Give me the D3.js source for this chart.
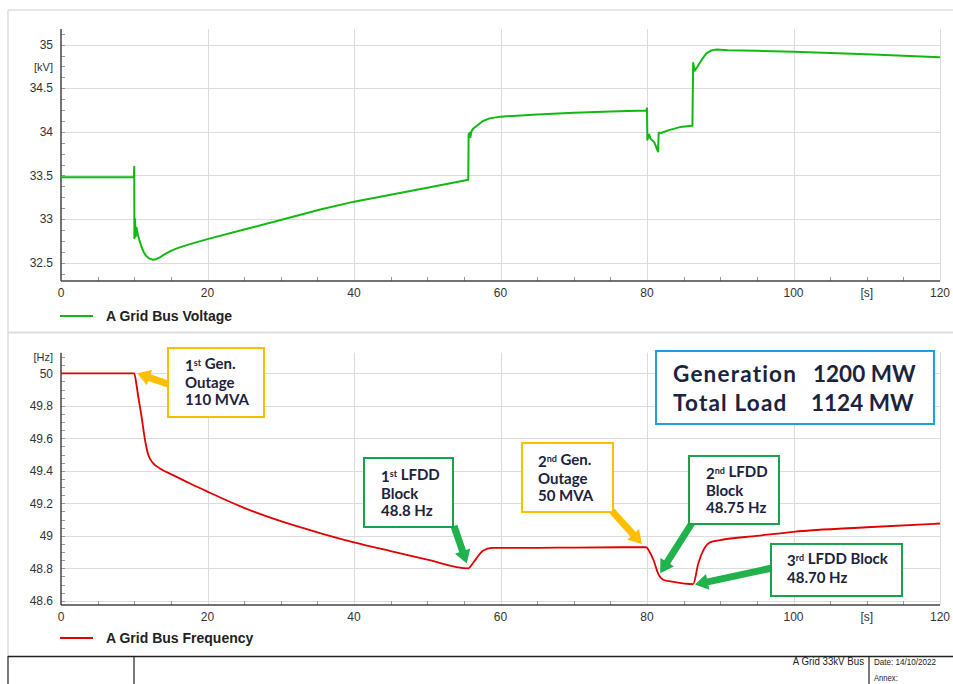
<!DOCTYPE html>
<html><head><meta charset="utf-8">
<script src="https://cdn.jsdelivr.net/npm/d3@7"></script>
<style>
html,body{margin:0;padding:0;background:#fff;}
svg{display:block;}
</style></head>
<body>
<svg id="c" width="953" height="684"></svg>
<script>
// ---------------- DATA ----------------
const voltTime = [0, 9.95, 10.0, 10.02, 10.1, 10.2, 10.3, 10.5, 10.7, 11.0, 11.3, 11.6, 12.0, 12.5, 13.0, 13.5, 14.0, 15.0, 16.0, 17.5, 20, 25, 30, 35.4, 40, 45, 50, 55.6,
  55.65, 55.8, 55.9, 56.0, 56.3, 56.8, 57.5, 58.5, 60, 65, 70, 75, 79.9,
  80.0, 80.05, 80.3, 80.5, 81.0, 81.5, 81.6, 82.0, 83.0, 84.5, 86.2,
  86.3, 86.5, 86.9, 87.5, 88.1, 88.8, 89.5, 91, 95, 100, 105, 110, 115, 120];
const voltValue = [33.48, 33.48, 33.60, 32.78, 33.00, 32.80, 32.90, 32.82, 32.76, 32.68, 32.62, 32.58, 32.55, 32.535, 32.54, 32.56, 32.59, 32.635, 32.67, 32.71, 32.77, 32.88, 32.99, 33.11, 33.20, 33.28, 33.36, 33.45,
  33.97, 33.99, 33.94, 34.00, 34.04, 34.07, 34.12, 34.155, 34.175, 34.20, 34.22, 34.235, 34.245,
  34.27, 33.91, 33.97, 33.92, 33.88, 33.775, 33.99, 33.99, 34.02, 34.055, 34.07,
  34.79, 34.70, 34.75, 34.83, 34.90, 34.935, 34.945, 34.935, 34.93, 34.918, 34.905, 34.89, 34.872, 34.855];

const freqTime = [0, 10, 10.3, 10.55, 11.0, 11.47, 11.9, 12.6, 13.5, 15.3, 17.5, 20, 25, 30, 35, 40, 45, 50, 55.6,
  56.2, 56.7, 57.6, 58.8, 65, 70, 79.9, 80.3, 80.9, 81.5, 82.2, 83.6, 86.3, 87.0, 87.7, 88.6, 90, 95, 100, 110, 120];
const freqValue = [50, 50, 49.93, 49.856, 49.733, 49.59, 49.50, 49.446, 49.415, 49.374, 49.325, 49.272, 49.172, 49.09, 49.022, 48.96, 48.906, 48.854, 48.80,
  48.83, 48.86, 48.908, 48.926, 48.926, 48.928, 48.93, 48.905, 48.85, 48.77, 48.73, 48.717, 48.703, 48.83, 48.912, 48.96, 48.974, 49.0, 49.025, 49.053, 49.076];

const xTicks = [0, 20, 40, 60, 80, 100, 120];
const xUnit = "[s]";
const voltTicks = [32.5, 33, 33.5, 34, 34.5, 35];
const freqTicks = [48.6, 48.8, 49, 49.2, 49.4, 49.6, 49.8, 50];
const voltUnit = "[kV]";
const freqUnit = "[Hz]";
const voltLegend = "A Grid Bus Voltage";
const freqLegend = "A Grid Bus Frequency";

// annotations: lines (with superscript markers), arrow tip in data coords
const annoLines = [
  [["1", "st", " Gen."], ["Outage"], ["110 MVA"]],
  [["1", "st", " LFDD"], ["Block"], ["48.8 Hz"]],
  [["2", "nd", " Gen."], ["Outage"], ["50 MVA"]],
  [["2", "nd", " LFDD"], ["Block"], ["48.75 Hz"]],
  [["3", "rd", " LFDD Block"], ["48.70 Hz"]]
];
const annoKind = ["gen", "lfdd", "gen", "lfdd", "lfdd"];
const annoTipTime = [10.4, 55.4, 79.3, 81.8, 86.55];
const annoTipFreq = [50.0, 48.83, 48.95, 48.77, 48.70];
const summaryLabels = ["Generation", "Total Load"];
const summaryValues = ["1200 MW", "1124 MW"];
const footerTitle = "A Grid 33kV Bus";
const footerDate = "Date: 14/10/2022";
const footerAnnex = "Annex:";

// ---------------- LAYOUT ----------------
const svg = d3.select("#c");
const FONT = "'Liberation Sans', Arial, sans-serif";
const AFONT = "Lato, 'Open Sans', sans-serif";
const NAVY = "#1b2340";
const COL = {volt: "#12b812", freq: "#e00000", gen: "#ffbf00", lfdd: "#17a34a", lfddArrow: "#22b24c", blue: "#1ea0dc"};

const x = d3.scaleLinear().domain([0, 120]).range([61, 940]);
const yV = d3.scaleLinear().domain([32.29, 35.18]).range([281, 29]);
const yF = d3.scaleLinear().domain([48.5745, 50.127]).range([605, 352.7]);

// panel frames
const frame = svg.append("g");
frame.append("line").attr("x1", 8).attr("x2", 953).attr("y1", 10).attr("y2", 10).attr("stroke", "#dedede").attr("stroke-width", 1.5);
frame.append("line").attr("x1", 8).attr("x2", 8).attr("y1", 10).attr("y2", 656).attr("stroke", "#dedede").attr("stroke-width", 1.5);
frame.append("line").attr("x1", 8).attr("x2", 953).attr("y1", 332.5).attr("y2", 332.5).attr("stroke", "#dedede").attr("stroke-width", 2);

function panel(y, ticks, minorStep, unitLabel, unitY, tickY) {
  const g = svg.append("g");
  const [y0, y1] = y.range();
  g.selectAll(".hg").data(ticks).join("line")
    .attr("x1", x(0)).attr("x2", x(120))
    .attr("y1", d => Math.round(y(d)) + 0.5).attr("y2", d => Math.round(y(d)) + 0.5)
    .attr("stroke", "#dcdcdc").attr("stroke-width", 1);
  g.selectAll(".vg").data(xTicks.filter(d => d > 0)).join("line")
    .attr("x1", d => Math.round(x(d)) + 0.5).attr("x2", d => Math.round(x(d)) + 0.5)
    .attr("y1", y1).attr("y2", y0)
    .attr("stroke", "#dcdcdc").attr("stroke-width", 1);
  const minorX = d3.range(5, 120, 5).filter(d => d % 20 !== 0);
  g.selectAll(".mx").data(minorX).join("line")
    .attr("x1", d => Math.round(x(d)) + 0.5).attr("x2", d => Math.round(x(d)) + 0.5)
    .attr("y1", y0).attr("y2", y0 - 4).attr("stroke", "#999");
  const dom = y.domain();
  const minorY = d3.range(Math.ceil(dom[0] / minorStep) * minorStep, dom[1], minorStep);
  g.selectAll(".my").data(minorY).join("line")
    .attr("x1", x(0)).attr("x2", x(0) + 4)
    .attr("y1", d => Math.round(y(d)) + 0.5).attr("y2", d => Math.round(y(d)) + 0.5)
    .attr("stroke", "#999");
  g.append("line").attr("x1", x(0)).attr("x2", x(0)).attr("y1", y1).attr("y2", y0).attr("stroke", "#444").attr("stroke-width", 1.5);
  g.append("line").attr("x1", x(0)).attr("x2", x(120)).attr("y1", y0).attr("y2", y0).attr("stroke", "#444").attr("stroke-width", 1.5);
  g.selectAll(".yl").data(ticks).join("text")
    .attr("x", 53).attr("y", d => y(d)).attr("dy", "0.35em")
    .attr("text-anchor", "end").attr("font-family", FONT).attr("font-size", 12).attr("fill", "#333")
    .text(d => d3.format("~g")(d));
  g.selectAll(".xl").data(xTicks).join("text")
    .attr("x", d => x(d)).attr("y", tickY)
    .attr("text-anchor", "middle").attr("font-family", FONT).attr("font-size", 12).attr("fill", "#333")
    .text(d => d);
  g.append("text").attr("x", x(110)).attr("y", tickY).attr("text-anchor", "middle")
    .attr("font-family", FONT).attr("font-size", 12).attr("fill", "#333").text(xUnit);
  g.append("text").attr("x", 53).attr("y", unitY).attr("dy", "0.35em").attr("text-anchor", "end")
    .attr("font-family", FONT).attr("font-size", 11).attr("fill", "#333").text(unitLabel);
  return g;
}

panel(yV, voltTicks, 0.125, voltUnit, 66.7, 297);
panel(yF, freqTicks, 0.05, freqUnit, 356.7, 621);

const vData = voltTime.map((t, i) => [t, voltValue[i]]);
const fData = freqTime.map((t, i) => [t, freqValue[i]]);
svg.append("path").datum(vData)
  .attr("d", d3.line().x(d => x(d[0])).y(d => yV(d[1])))
  .attr("fill", "none").attr("stroke", COL.volt).attr("stroke-width", 2).attr("stroke-linejoin", "round");
svg.append("path").datum(fData)
  .attr("d", d3.line().curve(d3.curveMonotoneX).x(d => x(d[0])).y(d => yF(d[1])))
  .attr("fill", "none").attr("stroke", COL.freq).attr("stroke-width", 1.8).attr("stroke-linejoin", "round");

function legend(yc, color, label) {
  svg.append("line").attr("x1", 60).attr("x2", 93).attr("y1", yc).attr("y2", yc).attr("stroke", color).attr("stroke-width", 2);
  svg.append("text").attr("x", 106).attr("y", yc).attr("dy", "0.36em")
    .attr("font-family", FONT).attr("font-weight", "bold").attr("font-size", 14).attr("fill", "#222").text(label);
}
legend(316, COL.volt, voltLegend);
legend(638, COL.freq, freqLegend);

const boxLayout = [
  {x: 168, y: 348, w: 96, h: 69, tx: 185, ty: 366, tail: [168, 384]},
  {x: 364, y: 458, w: 89, h: 69, tx: 381, ty: 477, tail: [454, 526]},
  {x: 522, y: 443, w: 91, h: 69, tx: 538, ty: 462, tail: [612, 511]},
  {x: 689, y: 456, w: 90, h: 68, tx: 706, ty: 474, tail: [692, 523]},
  {x: 771, y: 544, w: 131, h: 52, tx: 787, ty: 561, tail: [772, 568]}
];

function arrowPts(x1, y1, x2, y2, sw, hw, hl) {
  const dx = x2 - x1, dy = y2 - y1, L = Math.hypot(dx, dy);
  const ux = dx / L, uy = dy / L, nx = -uy, ny = ux;
  const bx = x2 - ux * hl, by = y2 - uy * hl;
  const p = [
    [x1 + nx * sw / 2, y1 + ny * sw / 2],
    [bx + nx * sw / 2, by + ny * sw / 2],
    [bx + nx * hw / 2, by + ny * hw / 2],
    [x2, y2],
    [bx - nx * hw / 2, by - ny * hw / 2],
    [bx - nx * sw / 2, by - ny * sw / 2],
    [x1 - nx * sw / 2, y1 - ny * sw / 2]
  ];
  return p.map(q => q.join(",")).join(" ");
}

const ag = svg.append("g");
annoLines.forEach((lines, i) => {
  const L = boxLayout[i];
  const kind = annoKind[i];
  const stroke = kind === "gen" ? COL.gen : COL.lfdd;
  const arrowCol = kind === "gen" ? COL.gen : COL.lfddArrow;
  const tipX = x(annoTipTime[i]), tipY = yF(annoTipFreq[i]);
  ag.append("polygon").attr("points", arrowPts(L.tail[0], L.tail[1], tipX, tipY, 7, 16, 13))
    .attr("fill", arrowCol);
  ag.append("rect").attr("x", L.x).attr("y", L.y).attr("width", L.w).attr("height", L.h)
    .attr("fill", "#fff").attr("stroke", stroke).attr("stroke-width", 2);
  lines.forEach((parts, j) => {
    const t = ag.append("text").attr("x", L.tx).attr("y", L.ty + j * 17).attr("dy", "0.35em")
      .attr("font-family", AFONT).attr("font-weight", 700).attr("font-size", 15).attr("fill", NAVY);
    if (parts.length === 1) {
      t.text(parts[0]);
    } else {
      t.append("tspan").text(parts[0]);
      t.append("tspan").attr("font-size", 9).attr("dy", "-0.55em").text(parts[1]);
      t.append("tspan").attr("dy", "0.2em").text(parts[2]);
    }
  });
});

ag.append("rect").attr("x", 656).attr("y", 351).attr("width", 278).attr("height", 73)
  .attr("fill", "#fff").attr("stroke", COL.blue).attr("stroke-width", 2);
const valueX = [813, 811];
summaryLabels.forEach((lab, i) => {
  ag.append("text").attr("x", 673).attr("y", 374 + i * 29).attr("dy", "0.35em")
    .attr("font-family", AFONT).attr("font-weight", 700).attr("font-size", 22.5).attr("letter-spacing", 1.2)
    .attr("fill", NAVY).text(lab);
  ag.append("text").attr("x", valueX[i]).attr("y", 374 + i * 29).attr("dy", "0.35em")
    .attr("font-family", AFONT).attr("font-weight", 700).attr("font-size", 22.5).attr("letter-spacing", 0)
    .attr("fill", NAVY).text(summaryValues[i]);
});

const fg = svg.append("g");
fg.append("line").attr("x1", 8).attr("x2", 953).attr("y1", 656.5).attr("y2", 656.5).attr("stroke", "#222").attr("stroke-width", 1.5);
[8, 134, 869].forEach(xx => fg.append("line").attr("x1", xx).attr("x2", xx).attr("y1", 656).attr("y2", 684).attr("stroke", "#222").attr("stroke-width", 1.2));
fg.append("text").attr("x", 864).attr("y", 665).attr("text-anchor", "end").attr("font-family", FONT)
  .attr("font-size", 10).attr("fill", "#222").attr("transform", "translate(864,0) scale(0.97,1) translate(-864,0)").text(footerTitle);
fg.append("text").attr("x", 874).attr("y", 665).attr("font-family", FONT)
  .attr("font-size", 9).attr("fill", "#222").attr("transform", "translate(874,0) scale(0.9,1) translate(-874,0)").text(footerDate);
fg.append("text").attr("x", 874).attr("y", 681.5).attr("font-family", FONT)
  .attr("font-size", 8.5).attr("fill", "#222").attr("transform", "translate(874,0) scale(0.9,1) translate(-874,0)").text(footerAnnex);
</script>
</body></html>
